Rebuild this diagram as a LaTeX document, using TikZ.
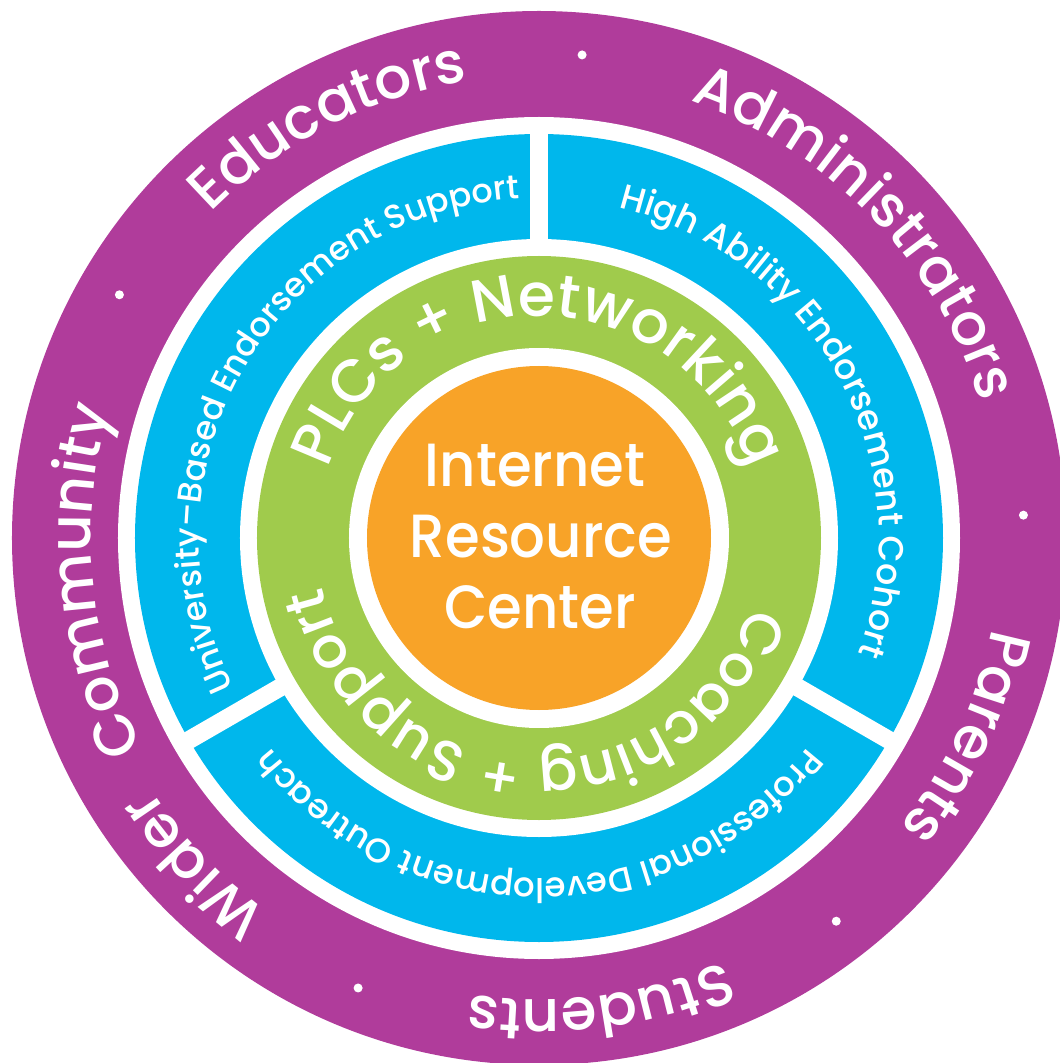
\documentclass[tikz,border=0pt]{standalone}
\usepackage{fontspec}
\setmainfont{Poppins}[UprightFont=* Medium]
\usetikzlibrary{decorations.text}

\definecolor{ringpurple}{RGB}{176,60,155}
\definecolor{ringblue}{RGB}{0,183,236}
\definecolor{ringgreen}{RGB}{160,203,76}
\definecolor{ringorange}{RGB}{248,163,40}

% radius, mid angle, font size, text (clockwise, letters outward)
\newcommand{\ringtext}[4]{%
  \path[decorate, decoration={text along path, text align=center,
      text color=white, text={|\fontsize{#3}{#3}\selectfont|#4}}]
    (#2+85:#1) arc[start angle=#2+85, end angle=#2-85, radius=#1];}

\begin{document}
\begin{tikzpicture}[x=1pt, y=1pt]

  \useasboundingbox (-539,-525) rectangle (521,538);

  \begin{scope}[every node/.style={circle, inner sep=0pt, draw=none}]
    \node[fill=ringpurple, minimum size=1054pt] (outer) at (0,0) {};
    \node[fill=white, minimum size=842pt] (gapa) at (0,0) {};
    \node[fill=ringblue, minimum size=808pt] (middle) at (0,0) {};
  \end{scope}

  % white cuts between the blue parts
  \foreach \a in {90,210,330}
    \draw[white, line width=18pt] (\a:290) -- (\a:412);

  \begin{scope}[every node/.style={circle, inner sep=0pt, draw=none}]
    \node[fill=white, minimum size=598pt] (gapb) at (0,0) {};
    \node[fill=ringgreen, minimum size=564pt] (inner) at (0,0) {};
    \node[fill=white, minimum size=380pt] (gapc) at (0,0) {};
    \node[fill=ringorange, minimum size=344pt] (core) at (0,0) {};
  \end{scope}

  % outer ring
  \ringtext{462}{117}{58}{Educators}
  \ringtext{462}{44}{58}{Administrators}
  \ringtext{462}{-25}{58}{Parents}
  \ringtext{462}{-82.5}{58}{Students}
  \ringtext{462}{223.5}{58}{Wider}
  \ringtext{448}{185.5}{58}{Community}

  \foreach \a in {84.9,149.9,2.7,-52.2,248.1}
    \fill[white] (\a:485) circle (4.5);

  % blue ring
  \ringtext{340}{149.7}{33.5}{University–Based Endorsement Support}
  \ringtext{340}{28.3}{35}{High Ability Endorsement Cohort}
  \ringtext{340}{-90}{34}{Professional Development Outreach}

  % green ring
  \ringtext{222}{90}{60}{PLCs + Networking}
  \ringtext{222}{-92.5}{57}{Coaching + Support}

  \begin{scope}[every node/.style={text=white, font=\fontsize{61}{61}\selectfont,
      anchor=base, xscale=0.92, transform shape}]
    \node (int) at (-4,51) {Internet};
    \node (res) at (2,-19) {Resource};
    \node (cen) at (1,-90) {Center};
  \end{scope}

\end{tikzpicture}
\end{document}
